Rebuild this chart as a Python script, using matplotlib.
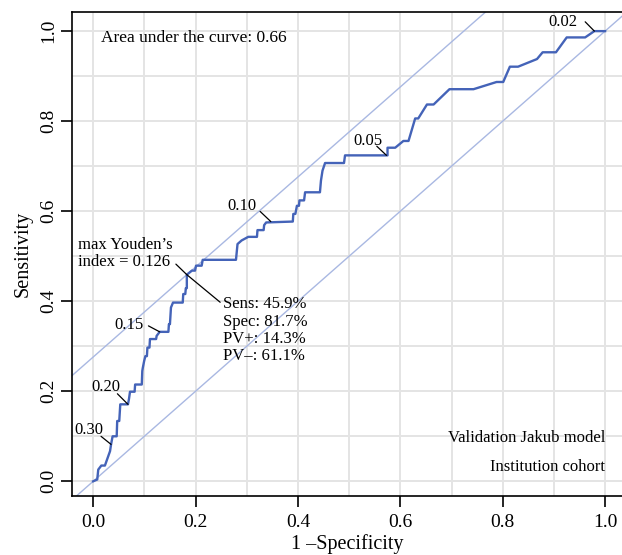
import numpy as np
import matplotlib
matplotlib.use("Agg")
import matplotlib.pyplot as plt

plt.rcParams['font.family'] = ['Liberation Serif', 'DejaVu Serif']

# ROC curve (1 - specificity, sensitivity)
fpr = [0.000, 0.008, 0.010, 0.016, 0.023, 0.033, 0.035, 0.038, 0.046, 0.047,
       0.051, 0.053, 0.068, 0.070, 0.072, 0.081, 0.082, 0.095, 0.096, 0.097,
       0.0996, 0.102, 0.105, 0.106, 0.110, 0.111, 0.123, 0.124, 0.130, 0.147,
       0.148, 0.150, 0.152, 0.156, 0.175, 0.176, 0.180, 0.181, 0.183, 0.183,
       0.193, 0.199, 0.201, 0.212, 0.214, 0.279, 0.282, 0.290, 0.303, 0.320,
       0.321, 0.333, 0.334, 0.338, 0.390, 0.391, 0.395, 0.398, 0.402, 0.403,
       0.412, 0.414, 0.443, 0.445, 0.448, 0.453, 0.490, 0.492, 0.575, 0.575,
       0.590, 0.606, 0.616, 0.629, 0.635, 0.652, 0.665, 0.696, 0.743, 0.788,
       0.801, 0.814, 0.830, 0.867, 0.878, 0.904, 0.925, 0.961, 0.979, 1.000]
tpr = [0.000, 0.004, 0.026, 0.035, 0.035, 0.067, 0.082, 0.100, 0.100, 0.134,
       0.134, 0.171, 0.171, 0.183, 0.199, 0.199, 0.215, 0.215, 0.245, 0.252,
       0.267, 0.278, 0.278, 0.297, 0.297, 0.316, 0.316, 0.323, 0.332, 0.332,
       0.349, 0.349, 0.386, 0.397, 0.397, 0.416, 0.416, 0.429, 0.429, 0.459,
       0.468, 0.468, 0.479, 0.479, 0.492, 0.492, 0.527, 0.535, 0.543, 0.543,
       0.558, 0.558, 0.569, 0.575, 0.577, 0.594, 0.594, 0.612, 0.612, 0.624,
       0.624, 0.642, 0.642, 0.668, 0.690, 0.707, 0.707, 0.724, 0.724, 0.741,
       0.741, 0.756, 0.756, 0.806, 0.806, 0.837, 0.837, 0.871, 0.871, 0.887,
       0.887, 0.921, 0.921, 0.938, 0.953, 0.953, 0.986, 0.986, 1.000, 1.000]

# cutoff labels and the curve points they mark
cut_labels = ["0.30", "0.20", "0.15", "0.10", "0.05", "0.02"]
cut_fpr = [0.035, 0.068, 0.130, 0.347, 0.573, 0.979]
cut_tpr = [0.082, 0.171, 0.332, 0.577, 0.724, 1.000]

# Youden point
sens, spec, ppv, npv = 45.9, 81.7, 14.3, 61.1
youden_txt = "0.126"
auc = 0.66

fig = plt.figure(figsize=(6.22, 5.55), dpi=100)
ax = fig.add_axes([0.116, 0.106, 0.884, 0.872])

ax.set_xlim(-0.041, 1.033)
ax.set_ylim(-0.033, 1.042)

ax.set_xticks(np.arange(0, 1.01, 0.2))
ax.set_yticks(np.arange(0, 1.01, 0.2))
ax.set_xticks(np.arange(0, 1.01, 0.1), minor=True)
ax.set_yticks(np.arange(0, 1.01, 0.1), minor=True)
ax.set_xticklabels([f"{v:.1f}" for v in np.arange(0, 1.01, 0.2)])
ax.set_yticklabels([f"{v:.1f}" for v in np.arange(0, 1.01, 0.2)],
                   rotation=90, va='center')
ax.tick_params(which='major', length=8, width=1.2, labelsize=14)
ax.tick_params(axis='x', which='major', pad=5)
ax.tick_params(axis='y', which='major', pad=3)
ax.tick_params(which='minor', length=0)
ax.grid(True, which='both', color='#e4e4e4', lw=1.4)
ax.set_axisbelow(True)
for s in ['left', 'bottom', 'top']:
    ax.spines[s].set_linewidth(1.2)
ax.spines['right'].set_visible(False)

# reference diagonals
yi = (sens + spec) / 100 - 1
ax.axline((0, 0), slope=1, color='#a9b8e2', lw=1.0)
ax.axline((0, yi), slope=1, color='#a9b8e2', lw=1.0)

ax.plot(fpr, tpr, color='#4463b8', lw=1.7, zorder=3)

# cutoff annotations: text offset and leader start offset (points)
txt_off = [(-16.2, 10.2), (-15.8, 12.7), (-22.3, 5.1), (-20.9, 11.0),
           (-13.5, 10.5), (-23.0, 6.9)]
lead_off = [(-7.2, 5.8), (-7.6, 7.6), (-8.1, 4.3), (-7.7, 7.3),
            (-7.0, 6.6), (-6.6, 6.7)]
for lab, x, y, t, l in zip(cut_labels, cut_fpr, cut_tpr, txt_off, lead_off):
    ax.annotate(lab, xy=(x, y), xytext=t, textcoords='offset points',
                ha='center', va='center', fontsize=12)
    ax.annotate("", xy=(x, y), xytext=l, textcoords='offset points',
                arrowprops=dict(arrowstyle='-', color='black', lw=0.9,
                                shrinkA=0, shrinkB=0))

ax.annotate("max Youden\u2019s\nindex = " + youden_txt, xy=(0.183, 0.459),
            xytext=(-78, 15.5), textcoords='offset points',
            ha='left', va='center', fontsize=12, linespacing=1.1,
            arrowprops=dict(arrowstyle='-', color='black', lw=0.9,
                            shrinkA=0, shrinkB=0, relpos=(1, 0.25)))
ax.annotate(f"Sens: {sens}%\nSpec: {spec}%\nPV+: {ppv}%\nPV\u2013: {npv}%",
            xy=(0.183, 0.459), xytext=(26, -40), textcoords='offset points',
            ha='left', va='center', fontsize=12, linespacing=1.1,
            arrowprops=dict(arrowstyle='-', color='black', lw=0.9,
                            shrinkA=0, shrinkB=0, relpos=(0, 0.88)))

ax.text(0.016, 0.984, f"Area under the curve: {auc}", ha='left', va='center',
        fontsize=12.5)
ax.text(1.0, 0.096, "Validation Jakub model", ha='right', va='center',
        fontsize=12)
ax.text(1.0, 0.031, "Institution cohort", ha='right', va='center',
        fontsize=12)

ax.set_xlabel("1 \u2013Specificity", fontsize=14.5, labelpad=2)
ax.set_ylabel("Sensitivity", fontsize=14.5, labelpad=5)

fig.savefig("out.png", dpi=100)
